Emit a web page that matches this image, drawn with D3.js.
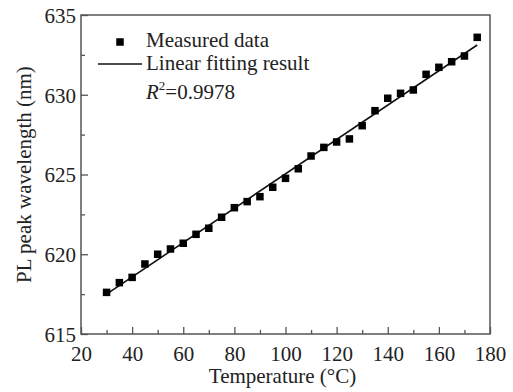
<!DOCTYPE html>
<html>
<head>
<meta charset="utf-8">
<script src="https://cdn.jsdelivr.net/npm/d3@7"></script>
<style>
  html, body { margin: 0; padding: 0; background: #fff; }
  svg { display: block; }
  svg text { font-family: "Times New Roman", "Liberation Serif", Tinos, "DejaVu Serif", serif; }
</style>
</head>
<body>
<div id="chart"></div>
<script>
const temps = [30, 35, 40, 45, 50, 55, 60, 65, 70, 75, 80, 85, 90, 95, 100,
  105, 110, 115, 120, 125, 130, 135, 140, 145, 150, 155, 160, 165, 170, 175];
const peaks = [617.61, 618.22, 618.55, 619.39, 620.0, 620.33, 620.69, 621.25, 621.63, 622.32,
  622.92, 623.30, 623.61, 624.20, 624.76, 625.36, 626.16, 626.70, 627.04, 627.23,
  628.06, 629.0, 629.78, 630.09, 630.30, 631.28, 631.72, 632.07, 632.43, 633.60];
// reta ajustada (extremos)
const fitT = [30, 175];
const fitY = [617.5, 633.12];
const xTicks = [20, 40, 60, 80, 100, 120, 140, 160, 180];
const yTicks = [615, 620, 625, 630, 635];

const W = 513, H = 392;
const m = { left: 81, right: 23, top: 15, bottom: 58 };
const ink = "#222";
const axisCol = "#555";
const FS = 21;

const svg = d3.select("#chart").append("svg").attr("width", W).attr("height", H);

const x = d3.scaleLinear().domain([20, 180]).range([m.left, W - m.right]);
const y = d3.scaleLinear().domain([615, 635]).range([H - m.bottom, m.top]);

// ticks menores (para dentro)
const xMinor = d3.range(30, 180, 20);
const yMinor = d3.range(617.5, 635, 5);

const gx = svg.append("g").attr("transform", `translate(0,${H - m.bottom})`);
gx.call(d3.axisBottom(x).tickValues(xTicks).tickSize(-7).tickPadding(12).tickFormat(d3.format("d")));
gx.append("g").call(d3.axisBottom(x).tickValues(xMinor).tickSize(-4).tickFormat(""));

const gy = svg.append("g").attr("transform", `translate(${m.left},0)`);
gy.call(d3.axisLeft(y).tickValues(yTicks).tickSize(-7).tickPadding(5).tickFormat(d3.format("d")));
gy.append("g").call(d3.axisLeft(y).tickValues(yMinor).tickSize(-4).tickFormat(""));

svg.selectAll("g").attr("font-family", null).attr("font-size", null);
svg.selectAll(".domain").remove();
svg.selectAll(".tick line").attr("stroke", axisCol).attr("stroke-width", 1.3);
svg.selectAll(".tick text").attr("fill", ink).attr("font-size", FS);
gy.selectAll(".tick text").attr("dy", "0.35em");

// moldura
svg.append("rect")
  .attr("x", x(20)).attr("y", y(635))
  .attr("width", x(180) - x(20)).attr("height", y(615) - y(635))
  .attr("fill", "none").attr("stroke", axisCol).attr("stroke-width", 1.5);

// reta ajustada
svg.append("path")
  .datum(fitT.map((t, i) => [t, fitY[i]]))
  .attr("fill", "none").attr("stroke", "#111").attr("stroke-width", 1.6)
  .attr("d", d3.line().x((d) => x(d[0])).y((d) => y(d[1])));

// pontos medidos
const sz = 7.5;
svg.append("g").selectAll("rect")
  .data(temps.map((t, i) => [t, peaks[i]]))
  .join("rect")
  .attr("x", (d) => x(d[0]) - sz / 2).attr("y", (d) => y(d[1]) - sz / 2)
  .attr("width", sz).attr("height", sz).attr("fill", "#000");

// titulos dos eixos
svg.append("text")
  .attr("x", (x(20) + x(180)) / 2 - 3).attr("y", 383)
  .attr("text-anchor", "middle").attr("font-size", FS).attr("fill", ink)
  .text("Temperature (°C)");

svg.append("text")
  .attr("transform", `translate(31,${(y(615) + y(635)) / 2}) rotate(-90)`)
  .attr("text-anchor", "middle").attr("font-size", FS).attr("fill", ink)
  .text("PL peak wavelength (nm)");

// legenda
const lg = svg.append("g");
lg.append("rect").attr("x", 120 - sz / 2).attr("y", 42 - sz / 2).attr("width", sz).attr("height", sz).attr("fill", "#000");
lg.append("text").attr("x", 146).attr("y", 47).attr("font-size", FS).attr("fill", ink).text("Measured data");
lg.append("line").attr("x1", 98).attr("x2", 142).attr("y1", 64).attr("y2", 64).attr("stroke", "#111").attr("stroke-width", 1.6);
lg.append("text").attr("x", 146).attr("y", 70).attr("font-size", FS).attr("fill", ink).text("Linear fitting result");
const r2 = lg.append("text").attr("x", 146).attr("y", 99).attr("font-size", FS).attr("fill", ink);
r2.append("tspan").attr("font-style", "italic").text("R");
r2.append("tspan").attr("font-size", 13).attr("dy", -9).text("2");
r2.append("tspan").attr("dy", 9).text("=0.9978");
</script>
</body>
</html>
